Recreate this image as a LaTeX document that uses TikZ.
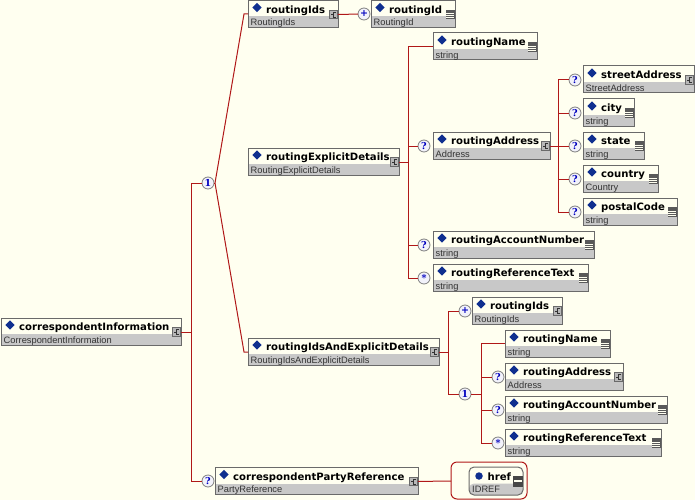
\documentclass[tikz,border=0pt]{standalone}
\usepackage{fontspec}
\usepackage{xcolor}
\usetikzlibrary{shapes.geometric}
\newfontfamily\titlefont{DejaVu Sans}[BoldFont={DejaVu Sans Bold}]
\newfontfamily\typefont{Liberation Sans}
\newfontfamily\compfont{DejaVu Serif}[BoldFont={DejaVu Serif Bold}]
\definecolor{paper}{HTML}{FFFFF0}
\definecolor{wirered}{HTML}{B01818}
\definecolor{boxline}{HTML}{6A6A6A}
\definecolor{boxgray}{HTML}{C8C8C8}
\definecolor{markblue}{HTML}{0F2F8F}
\definecolor{compfill}{HTML}{F2F2FA}
\tikzset{
    elembox/.style={draw=boxline, line width=1pt, anchor=north west, minimum height=27pt, inner sep=0pt, outer sep=0pt,
        path picture={\fill[boxgray] ([yshift=-2.5pt]path picture bounding box.west) rectangle (path picture bounding box.south east);}},
    titletext/.style={anchor=base west, inner sep=0pt, font=\titlefont\bfseries\fontsize{10.1}{12}\selectfont, text=black},
    typetext/.style={anchor=base west, inner sep=0pt, font=\typefont\fontsize{9.3}{10}\selectfont, text=black!80},
    bluemark/.style={diamond, fill=markblue, inner sep=0pt, minimum size=9.5pt},
    expbox/.style={draw=boxline, fill=boxgray!92!black, line width=1pt, minimum size=8.5pt, inner sep=0pt, outer sep=0pt,
        path picture={\draw[black!80, line width=.5pt] ([shift={(2.5,-2.5)}]path picture bounding box.center) -- ([shift={(-.5,-2.5)}]path picture bounding box.center) -- ([shift={(-.5,2.5)}]path picture bounding box.center) -- ([shift={(2.5,2.5)}]path picture bounding box.center) ([shift={(-.5,0)}]path picture bounding box.center) -- ([shift={(-3,0)}]path picture bounding box.center);}},
    leafbox/.style={fill=black!65, minimum width=9.5pt, minimum height=9.5pt, inner sep=0pt, outer sep=0pt,
        path picture={\foreach \i in {-1,1,3} \draw[paper, line width=.8pt] ([shift={(-4.75,\i)}]path picture bounding box.center) -- ([shift={(3,\i)}]path picture bounding box.center);}},
    comp/.style={circle, draw=black!50, fill=compfill, line width=.8pt, minimum size=12pt, inner sep=0pt, outer sep=0pt, text=blue!75!black, font=\compfont\bfseries\fontsize{9.5}{10}\selectfont},
    wire/.style={draw=wirered, line width=1pt},
}
\newcommand{\elem}[7]{%
    \node (#1) [elembox, minimum width=#4pt] at (#2,#3) {};
    \node (#1mark) [bluemark] at ([shift={(9,7)}]#1.north west) {};
    \node (#1title) [titletext] at ([shift={(18,12.7)}]#1.north west) {#5};
    \node (#1type) [typetext] at ([shift={(2.5,25.3)}]#1.north west) {#6};
    \node (#1icon) [#7] at ([shift={(-4.5,14)}]#1.north east) {};
}
\begin{document}
\begin{tikzpicture}[x=1pt, y=-1pt]
    \useasboundingbox (0,0) rectangle (695,500);
    \fill[paper] (0,0) rectangle (695,500);

    \elem{correspondent}{1}{318}{180}{correspondentInformation}{CorrespondentInformation}{expbox}
    \elem{idsTop}{248}{0.5}{90}{routingIds}{RoutingIds}{expbox}
    \elem{idTop}{371}{0.5}{84}{routingId}{RoutingId}{leafbox}
    \elem{explicit}{248}{148}{151}{routingExplicitDetails}{RoutingExplicitDetails}{expbox}
    \elem{nameA}{433}{33}{104}{routingName}{string}{leafbox}
    \elem{addressA}{433}{132}{117}{routingAddress}{Address}{expbox}
    \elem{street}{583}{66}{111}{streetAddress}{StreetAddress}{expbox}
    \elem{city}{583}{99}{51}{city}{string}{leafbox}
    \elem{state}{583}{132}{61}{state}{string}{leafbox}
    \elem{country}{583}{165}{75}{country}{Country}{leafbox}
    \elem{postal}{583}{198}{94}{postalCode}{string}{leafbox}
    \elem{accountA}{433}{231}{161}{routingAccountNumber}{string}{leafbox}
    \elem{referenceA}{433}{264}{155}{routingReferenceText}{string}{leafbox}
    \elem{idsExplicit}{248}{338}{191}{routingIdsAndExplicitDetails}{RoutingIdsAndExplicitDetails}{expbox}
    \elem{idsB}{472}{297}{90}{routingIds}{RoutingIds}{expbox}
    \elem{nameB}{505}{330}{105}{routingName}{string}{leafbox}
    \elem{addressB}{505}{363}{118}{routingAddress}{Address}{expbox}
    \elem{accountB}{505}{396}{162}{routingAccountNumber}{string}{leafbox}
    \elem{referenceB}{505}{429}{156}{routingReferenceText}{string}{leafbox}
    \elem{party}{215}{467.5}{203}{correspondentPartyReference}{PartyReference}{expbox}

    \node (hrefgroup) [draw=wirered, line width=1pt, rounded corners=6pt, anchor=north west, minimum width=76pt, minimum height=37pt, inner sep=0pt, outer sep=0pt] at (451,462) {};
    \node (href) [elembox, rounded corners=5pt, minimum width=54pt, minimum height=28pt] at (469,467) {};
    \node (hrefmark) [circle, fill=markblue, inner sep=0pt, minimum size=7.5pt] at (479,476) {};
    \node (hreftitle) [titletext] at (487.5,480) {href};
    \node (hreftype) [typetext] at (472,492) {IDREF};
    \node (hrefminus) [fill=black!72, minimum width=10pt, minimum height=11pt, inner sep=0pt] at (518,481) {};
    \fill[paper] (514,480) rectangle (522,482);

    \node (seqTop) [comp] at (208,183) {1};
    \node (optParty) [comp] at (208,481) {?};
    \node (plusTop) [comp] at (364,14) {+};
    \node (optAddressA) [comp] at (424,146) {?};
    \node (optAccountA) [comp] at (424,245) {?};
    \node (starA) [comp] at (424,278) {*};
    \node (optStreet) [comp] at (575,80) {?};
    \node (optCity) [comp] at (575,113) {?};
    \node (optState) [comp] at (575,146) {?};
    \node (optCountry) [comp] at (575,179) {?};
    \node (optPostal) [comp] at (575,212) {?};
    \node (plusB) [comp] at (465,311) {+};
    \node (seqB) [comp] at (465,394) {1};
    \node (optAddressB) [comp] at (498,377) {?};
    \node (optAccountB) [comp] at (498,410) {?};
    \node (starB) [comp] at (498,443) {*};

    \coordinate (spineRoot) at (191,332);
    \coordinate (apexTop) at (215,183);
    \coordinate (kneeIds) at (244,14);
    \coordinate (kneeBoth) at (244,352);
    \coordinate (spineExplicit) at (408,162);
    \coordinate (spineAddress) at (558,146);
    \coordinate (spineBoth) at (448,352);
    \coordinate (spineSeq) at (481,394);

    \draw [wire] (correspondenticon) -- (spineRoot);
    \draw [wire] (spineRoot) |- (seqTop);
    \draw [wire] (spineRoot) |- (optParty);
    \draw [wire] (apexTop) -- (kneeIds) -- (idsTop.west |- kneeIds);
    \draw [wire] (apexTop) -- (kneeBoth) -- (idsExplicit.west |- kneeBoth);
    \draw [wire] (seqTop) -- (apexTop);
    \draw [wire] (idsTopicon) -- (plusTop);
    \draw [wire] (expliciticon) -- (spineExplicit);
    \draw [wire] (spineExplicit) |- (nameA);
    \draw [wire] (spineExplicit) |- (optAddressA);
    \draw [wire] (spineExplicit) |- (optAccountA);
    \draw [wire] (spineExplicit) |- (starA);
    \draw [wire] (addressAicon) -- (spineAddress);
    \draw [wire] (spineAddress) |- (optStreet);
    \draw [wire] (spineAddress) |- (optCity);
    \draw [wire] (spineAddress) |- (optState);
    \draw [wire] (spineAddress) |- (optCountry);
    \draw [wire] (spineAddress) |- (optPostal);
    \draw [wire] (idsExpliciticon) -- (spineBoth);
    \draw [wire] (spineBoth) |- (plusB);
    \draw [wire] (spineBoth) |- (seqB);
    \draw [wire] (seqB) -- (spineSeq);
    \draw [wire] (spineSeq) |- (nameB);
    \draw [wire] (spineSeq) |- (optAddressB);
    \draw [wire] (spineSeq) |- (optAccountB);
    \draw [wire] (spineSeq) |- (starB);
    \draw [wire] (partyicon) -- (hrefgroup);
\end{tikzpicture}
\end{document}
